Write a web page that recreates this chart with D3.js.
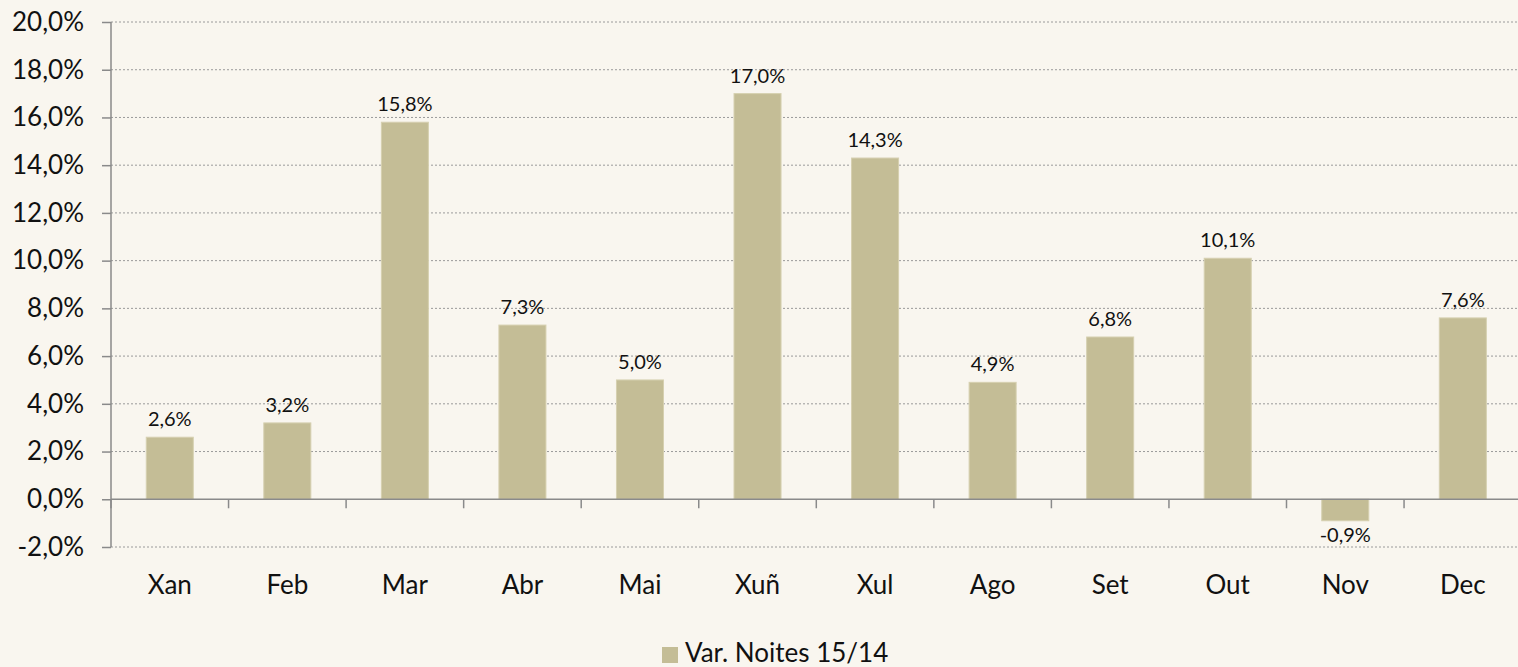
<!DOCTYPE html>
<meta charset="utf-8">
<style>
body { margin: 0; background: #f9f6ef; }
svg { display: block; font-family: Lato, "Open Sans", sans-serif; }
.grid line { stroke: #9a9a9a; stroke-width: 1px; stroke-dasharray: 2,2; }
.axis path, .axis line { stroke: #8a8a8a; stroke-width: 1.5px; }
</style>
<body>
<script src="https://d3js.org/d3.v7.min.js"></script>
<script>

var months = ["Xan", "Feb", "Mar", "Abr", "Mai", "Xuñ", "Xul", "Ago", "Set", "Out", "Nov", "Dec"];
var values = [2.6, 3.2, 15.8, 7.3, 5.0, 17.0, 14.3, 4.9, 6.8, 10.1, -0.9, 7.6];
var yTicks = [-2, 0, 2, 4, 6, 8, 10, 12, 14, 16, 18, 20];
var seriesName = "Var. Noites 15/14";

var margin = {top: 22, left: 111},
    width = 1410.6,
    height = 525;

// 1 decimal, comma separator, plain hyphen for negatives
var fmt = function(v) {
  return d3.format(".1f")(v).replace(".", ",").replace("\u2212", "-") + "%";
};

var svg = d3.select("body").append("svg")
    .attr("width", 1518)
    .attr("height", 667);

var g = svg.append("g")
    .attr("transform", "translate(" + margin.left + "," + margin.top + ")");

var x = d3.scaleBand().domain(months).range([0, width]).paddingInner(0.6).paddingOuter(0.3);
var xb = d3.scaleBand().domain(months).range([0, width]);
var y = d3.scaleLinear().domain([-2, 20]).range([height, 0]);

// dotted gridlines
g.append("g").attr("class", "grid")
  .selectAll("line").data(yTicks.filter(function(d) { return d !== 0; }))
  .enter().append("line")
    .attr("x1", 0).attr("x2", width)
    .attr("y1", function(d) { return y(d); })
    .attr("y2", function(d) { return y(d); });

// bars
g.selectAll(".bar").data(values).enter().append("rect")
    .attr("class", "bar")
    .attr("x", function(d, i) { return x(months[i]); })
    .attr("width", x.bandwidth())
    .attr("y", function(d) { return y(Math.max(0, d)); })
    .attr("height", function(d) { return Math.abs(y(d) - y(0)); })
    .attr("fill", "#c4bd96")
    .attr("stroke", "#d6d0b0")
    .attr("stroke-width", 1);

// data labels
g.selectAll(".lbl").data(values).enter().append("text")
    .attr("x", function(d, i) { return x(months[i]) + x.bandwidth() / 2; })
    .attr("y", function(d) { return d >= 0 ? y(d) - 11 : y(d) + 21; })
    .attr("text-anchor", "middle")
    .attr("font-size", "20px")
    .attr("fill", "#111")
    .text(fmt);

// y axis
var yAxis = g.append("g").attr("class", "axis")
    .call(d3.axisLeft(y).tickValues(yTicks).tickSize(9).tickPadding(18)
      .tickFormat(fmt));
yAxis.selectAll("text").attr("font-size", "26px").attr("fill", "#111").attr("font-family", "Lato, sans-serif");
yAxis.select(".domain").attr("d", "M0," + y(-2) + "V" + y(20));

// x axis at zero with ticks between categories
var xAxis = g.append("g").attr("class", "axis")
    .attr("transform", "translate(0," + y(0) + ")");
xAxis.append("line").attr("x1", 0).attr("x2", width).attr("y1", 0).attr("y2", 0);
xAxis.selectAll(".tk").data(months).enter().append("line")
    .attr("x1", function(d) { return xb(d); })
    .attr("x2", function(d) { return xb(d); })
    .attr("y1", 0).attr("y2", 9);

g.selectAll(".mlbl").data(months).enter().append("text")
    .attr("x", function(d) { return xb(d) + xb.bandwidth() / 2; })
    .attr("y", 572)
    .attr("text-anchor", "middle")
    .attr("font-size", "26px")
    .attr("fill", "#111")
    .text(function(d) { return d; });

// legend
var legend = svg.append("g").attr("transform", "translate(662,647)");
legend.append("rect").attr("width", 16).attr("height", 16).attr("fill", "#c4bd96");
legend.append("text").attr("x", 23).attr("y", 15)
    .attr("font-size", "26px").attr("fill", "#111")
    .text(seriesName);

</script>
</body>
